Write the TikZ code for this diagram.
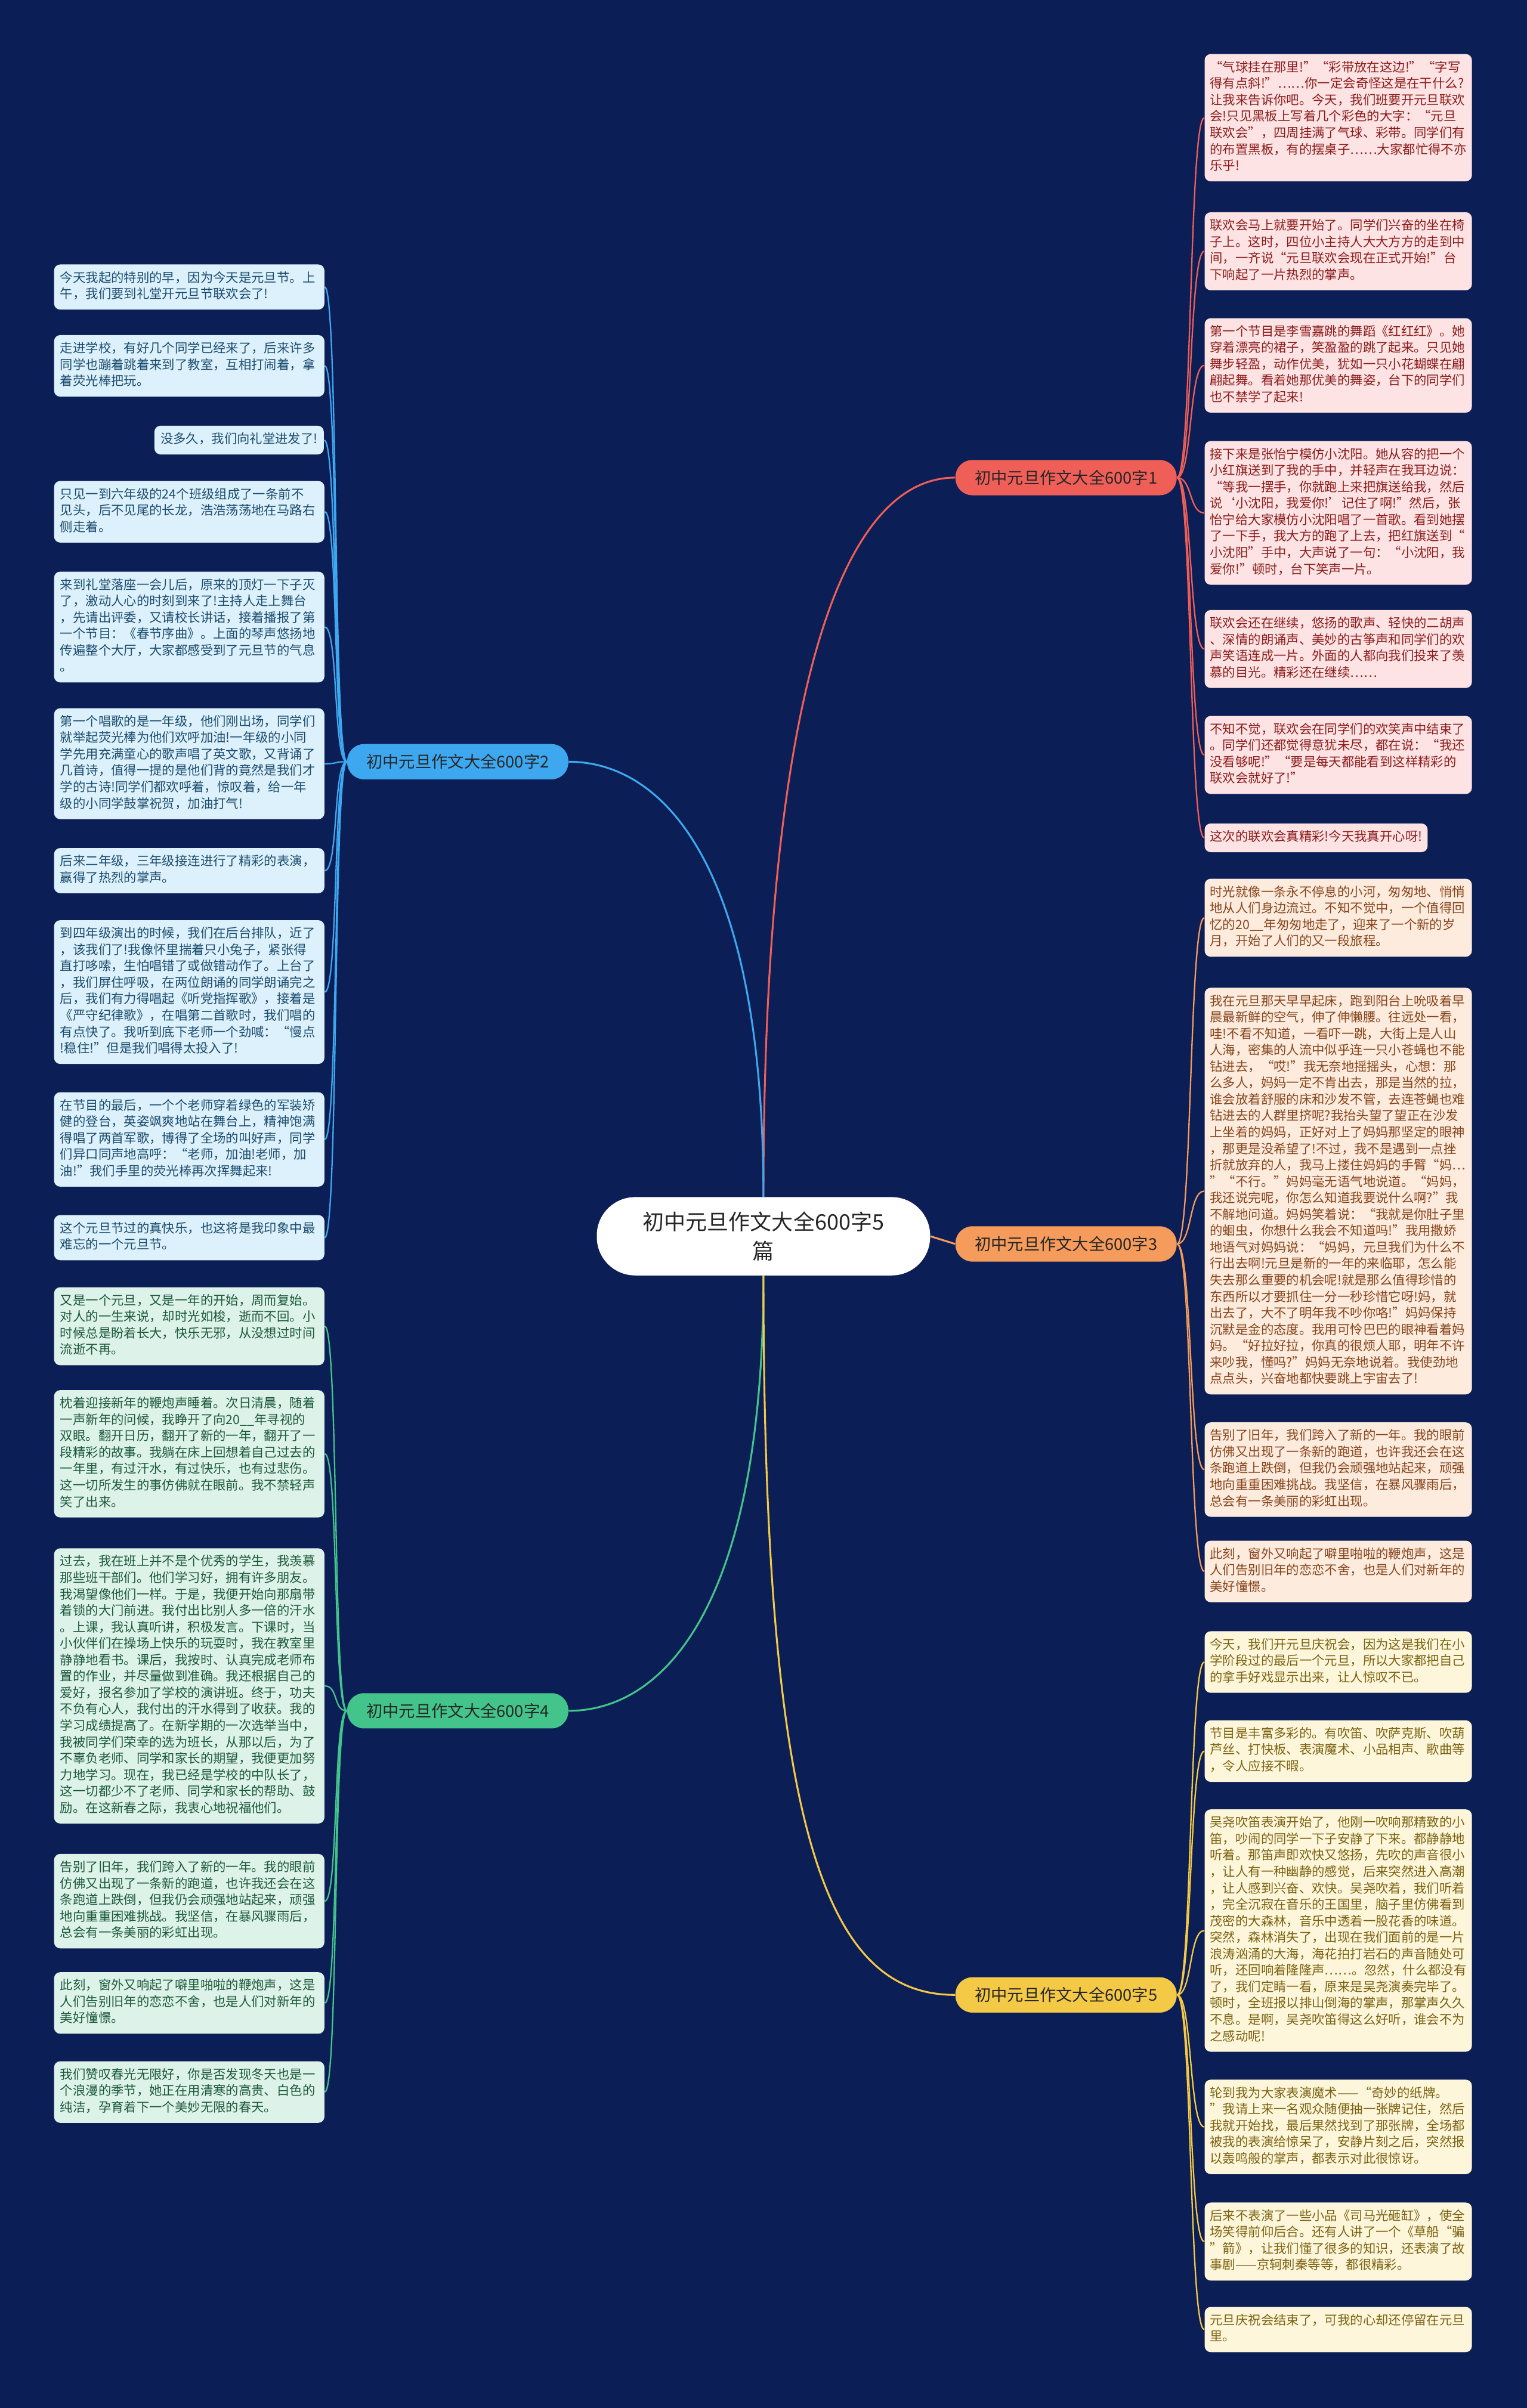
\documentclass[tikz,border=0pt]{standalone}
\usepackage{fontspec}
\setmainfont{Noto Sans CJK SC}
\definecolor{bgc}{HTML}{0C1E56}
\definecolor{cA}{HTML}{EF5F58}
\definecolor{cB}{HTML}{3DA8EF}
\definecolor{cC}{HTML}{F59B5B}
\definecolor{cD}{HTML}{43C48A}
\definecolor{cE}{HTML}{F4C946}
\definecolor{fA}{HTML}{FDE3E3}
\definecolor{tA}{HTML}{8C1C1C}
\definecolor{fB}{HTML}{DCF1FB}
\definecolor{tB}{HTML}{1C4C6E}
\definecolor{fC}{HTML}{FDEBDE}
\definecolor{tC}{HTML}{86451B}
\definecolor{fD}{HTML}{DDF2E8}
\definecolor{tD}{HTML}{1D5A3C}
\definecolor{fE}{HTML}{FEF6DA}
\definecolor{tE}{HTML}{7A6212}
\begin{document}
\begin{tikzpicture}[x=1pt,y=-1pt,
  basebox/.style={inner xsep=3.5pt, inner ysep=4pt, rounded corners=4pt, align=left,
    font=\fontsize{8.3pt}{10.7pt}\selectfont, execute at begin node=\strut, execute at end node=\strut},
  rbox/.style={basebox, anchor=north west, text width=167pt},
  lbox/.style={basebox, anchor=north west, text width=168pt, inner xsep=4pt},
  boxA/.style={fill=fA, text=tA}, boxB/.style={fill=fB, text=tB}, boxC/.style={fill=fC, text=tC},
  boxD/.style={fill=fD, text=tD}, boxE/.style={fill=fE, text=tE},
  branch/.style={rounded corners=11pt, minimum width=144pt, minimum height=23pt, inner sep=2pt,
    font=\fontsize{10.6pt}{12pt}\selectfont, text=black!85},
  mainline/.style={line width=1.2pt},
  subline/.style={line width=0.9pt}
]
\fill[bgc] (0,0) rectangle (994,1568);
\useasboundingbox (0,0) rectangle (994,1568);

% center
\node[fill=white, rounded corners=25pt, minimum width=217pt, minimum height=51pt, align=center,
  font=\fontsize{14pt}{19pt}\selectfont, text=black!85] (C) at (497,805) {初中元旦作文大全600字5\\篇};

% branch labels
\node[branch, fill=cA] (L1) at (694,311) {初中元旦作文大全600字1};
\node[branch, fill=cB] (L2) at (298,496) {初中元旦作文大全600字2};
\node[branch, fill=cC] (L3) at (694,810) {初中元旦作文大全600字3};
\node[branch, fill=cD] (L4) at (298,1114) {初中元旦作文大全600字4};
\node[branch, fill=cE] (L5) at (694,1299) {初中元旦作文大全600字5};

% main connectors
\draw[mainline, cA] (C.north) .. controls (497,480) and (540,311) .. (L1.west);
\draw[mainline, cB] (C.north) .. controls (497,560) and (430,496) .. (L2.east);
\draw[mainline, cC] (C.east) -- (L3.west);
\draw[mainline, cD] (C.south) .. controls (497,1050) and (430,1114) .. (L4.east);
\draw[mainline, cE] (C.south) .. controls (497,1200) and (540,1299) .. (L5.west);

% branch 1 boxes
\node[rbox, boxA] (a1) at (784,35) {“气球挂在那里!”“彩带放在这边!”“字写\\得有点斜!”……你一定会奇怪这是在干什么?\\让我来告诉你吧。今天，我们班要开元旦联欢\\会!只见黑板上写着几个彩色的大字：“元旦\\联欢会”，四周挂满了气球、彩带。同学们有\\的布置黑板，有的摆桌子……大家都忙得不亦\\乐乎!};
\node[rbox, boxA] (a2) at (784,138) {联欢会马上就要开始了。同学们兴奋的坐在椅\\子上。这时，四位小主持人大大方方的走到中\\间，一齐说“元旦联欢会现在正式开始!”台\\下响起了一片热烈的掌声。};
\node[rbox, boxA] (a3) at (784,207) {第一个节目是李雪嘉跳的舞蹈《红红红》。她\\穿着漂亮的裙子，笑盈盈的跳了起来。只见她\\舞步轻盈，动作优美，犹如一只小花蝴蝶在翩\\翩起舞。看着她那优美的舞姿，台下的同学们\\也不禁学了起来!};
\node[rbox, boxA] (a4) at (784,287) {接下来是张怡宁模仿小沈阳。她从容的把一个\\小红旗送到了我的手中，并轻声在我耳边说：\\“等我一摆手，你就跑上来把旗送给我，然后\\说‘小沈阳，我爱你!’记住了啊!”然后，张\\怡宁给大家模仿小沈阳唱了一首歌。看到她摆\\了一下手，我大方的跑了上去，把红旗送到“\\小沈阳”手中，大声说了一句：“小沈阳，我\\爱你!”顿时，台下笑声一片。};
\node[rbox, boxA] (a5) at (784,397) {联欢会还在继续，悠扬的歌声、轻快的二胡声\\、深情的朗诵声、美妙的古筝声和同学们的欢\\声笑语连成一片。外面的人都向我们投来了羡\\慕的目光。精彩还在继续……};
\node[rbox, boxA] (a6) at (784,466) {不知不觉，联欢会在同学们的欢笑声中结束了\\。同学们还都觉得意犹未尽，都在说：“我还\\没看够呢!”“要是每天都能看到这样精彩的\\联欢会就好了!”};
\node[basebox, boxA, anchor=north west] (a7) at (784,536) {这次的联欢会真精彩!今天我真开心呀!};

% branch 3 boxes
\node[rbox, boxC] (c1) at (784,572) {时光就像一条永不停息的小河，匆匆地、悄悄\\地从人们身边流过。不知不觉中，一个值得回\\忆的20\_\_年匆匆地走了，迎来了一个新的岁\\月，开始了人们的又一段旅程。};
\node[rbox, boxC] (c2) at (784,643) {我在元旦那天早早起床，跑到阳台上吮吸着早\\晨最新鲜的空气，伸了伸懒腰。往远处一看，\\哇!不看不知道，一看吓一跳，大街上是人山\\人海，密集的人流中似乎连一只小苍蝇也不能\\钻进去，“哎!”我无奈地摇摇头，心想：那\\么多人，妈妈一定不肯出去，那是当然的拉，\\谁会放着舒服的床和沙发不管，去连苍蝇也难\\钻进去的人群里挤呢?我抬头望了望正在沙发\\上坐着的妈妈，正好对上了妈妈那坚定的眼神\\，那更是没希望了!不过，我不是遇到一点挫\\折就放弃的人，我马上搂住妈妈的手臂“妈…\\”“不行。”妈妈毫无语气地说道。“妈妈，\\我还说完呢，你怎么知道我要说什么啊?”我\\不解地问道。妈妈笑着说：“我就是你肚子里\\的蛔虫，你想什么我会不知道吗!”我用撒娇\\地语气对妈妈说：“妈妈，元旦我们为什么不\\行出去啊!元旦是新的一年的来临耶，怎么能\\失去那么重要的机会呢!就是那么值得珍惜的\\东西所以才要抓住一分一秒珍惜它呀!妈，就\\出去了，大不了明年我不吵你咯!”妈妈保持\\沉默是金的态度。我用可怜巴巴的眼神看着妈\\妈。“好拉好拉，你真的很烦人耶，明年不许\\来吵我，懂吗?”妈妈无奈地说着。我使劲地\\点点头，兴奋地都快要跳上宇宙去了!};
\node[rbox, boxC] (c3) at (784,926) {告别了旧年，我们跨入了新的一年。我的眼前\\仿佛又出现了一条新的跑道，也许我还会在这\\条跑道上跌倒，但我仍会顽强地站起来，顽强\\地向重重困难挑战。我坚信，在暴风骤雨后，\\总会有一条美丽的彩虹出现。};
\node[rbox, boxC] (c4) at (784,1003) {此刻，窗外又响起了噼里啪啦的鞭炮声，这是\\人们告别旧年的恋恋不舍，也是人们对新年的\\美好憧憬。};

% branch 5 boxes
\node[rbox, boxE] (e1) at (784,1062) {今天，我们开元旦庆祝会，因为这是我们在小\\学阶段过的最后一个元旦，所以大家都把自己\\的拿手好戏显示出来，让人惊叹不已。};
\node[rbox, boxE] (e2) at (784,1120) {节目是丰富多彩的。有吹笛、吹萨克斯、吹葫\\芦丝、打快板、表演魔术、小品相声、歌曲等\\，令人应接不暇。};
\node[rbox, boxE] (e3) at (784,1178) {吴尧吹笛表演开始了，他刚一吹响那精致的小\\笛，吵闹的同学一下子安静了下来。都静静地\\听着。那笛声即欢快又悠扬，先吹的声音很小\\，让人有一种幽静的感觉，后来突然进入高潮\\，让人感到兴奋、欢快。吴尧吹着，我们听着\\，完全沉寂在音乐的王国里，脑子里仿佛看到\\茂密的大森林，音乐中透着一股花香的味道。\\突然，森林消失了，出现在我们面前的是一片\\浪涛汹涌的大海，海花拍打岩石的声音随处可\\听，还回响着隆隆声……。忽然，什么都没有\\了，我们定睛一看，原来是吴尧演奏完毕了。\\顿时，全班报以排山倒海的掌声，那掌声久久\\不息。是啊，吴尧吹笛得这么好听，谁会不为\\之感动呢!};
\node[rbox, boxE] (e4) at (784,1354) {轮到我为大家表演魔术——“奇妙的纸牌。\\”我请上来一名观众随便抽一张牌记住，然后\\我就开始找，最后果然找到了那张牌，全场都\\被我的表演给惊呆了，安静片刻之后，突然报\\以轰鸣般的掌声，都表示对此很惊讶。};
\node[rbox, boxE] (e5) at (784,1434) {后来不表演了一些小品《司马光砸缸》，使全\\场笑得前仰后合。还有人讲了一个《草船“骗\\”箭》，让我们懂了很多的知识，还表演了故\\事剧——京轲刺秦等等，都很精彩。};
\node[rbox, boxE] (e6) at (784,1502) {元旦庆祝会结束了，可我的心却还停留在元旦\\里。};

% branch 2 boxes
\node[lbox, boxB] (b1) at (35,172) {今天我起的特别的早，因为今天是元旦节。上\\午，我们要到礼堂开元旦节联欢会了!};
\node[lbox, boxB] (b2) at (35,218) {走进学校，有好几个同学已经来了，后来许多\\同学也蹦着跳着来到了教室，互相打闹着，拿\\着荧光棒把玩。};
\node[basebox, boxB, anchor=north east, inner xsep=4pt] (b3) at (211,277) {没多久，我们向礼堂进发了!};
\node[lbox, boxB] (b4) at (35,313) {只见一到六年级的24个班级组成了一条前不\\见头，后不见尾的长龙，浩浩荡荡地在马路右\\侧走着。};
\node[lbox, boxB] (b5) at (35,372) {来到礼堂落座一会儿后，原来的顶灯一下子灭\\了，激动人心的时刻到来了!主持人走上舞台\\，先请出评委，又请校长讲话，接着播报了第\\一个节目：《春节序曲》。上面的琴声悠扬地\\传遍整个大厅，大家都感受到了元旦节的气息\\。};
\node[lbox, boxB] (b6) at (35,461) {第一个唱歌的是一年级，他们刚出场，同学们\\就举起荧光棒为他们欢呼加油!一年级的小同\\学先用充满童心的歌声唱了英文歌，又背诵了\\几首诗，值得一提的是他们背的竟然是我们才\\学的古诗!同学们都欢呼着，惊叹着，给一年\\级的小同学鼓掌祝贺，加油打气!};
\node[lbox, boxB] (b7) at (35,552) {后来二年级，三年级接连进行了精彩的表演，\\赢得了热烈的掌声。};
\node[lbox, boxB] (b8) at (35,599) {到四年级演出的时候，我们在后台排队，近了\\，该我们了!我像怀里揣着只小兔子，紧张得\\直打哆嗦，生怕唱错了或做错动作了。上台了\\，我们屏住呼吸，在两位朗诵的同学朗诵完之\\后，我们有力得唱起《听党指挥歌》，接着是\\《严守纪律歌》，在唱第二首歌时，我们唱的\\有点快了。我听到底下老师一个劲喊：“慢点\\!稳住!”但是我们唱得太投入了!};
\node[lbox, boxB] (b9) at (35,711) {在节目的最后，一个个老师穿着绿色的军装矫\\健的登台，英姿飒爽地站在舞台上，精神饱满\\得唱了两首军歌，博得了全场的叫好声，同学\\们异口同声地高呼：“老师，加油!老师，加\\油!”我们手里的荧光棒再次挥舞起来!};
\node[lbox, boxB] (b10) at (35,791) {这个元旦节过的真快乐，也这将是我印象中最\\难忘的一个元旦节。};

% branch 4 boxes
\node[lbox, boxD] (d1) at (35,838) {又是一个元旦，又是一年的开始，周而复始。\\对人的一生来说，却时光如梭，逝而不回。小\\时候总是盼着长大，快乐无邪，从没想过时间\\流逝不再。};
\node[lbox, boxD] (d2) at (35,905) {枕着迎接新年的鞭炮声睡着。次日清晨，随着\\一声新年的问候，我睁开了向20\_\_年寻视的\\双眼。翻开日历，翻开了新的一年，翻开了一\\段精彩的故事。我躺在床上回想着自己过去的\\一年里，有过汗水，有过快乐，也有过悲伤。\\这一切所发生的事仿佛就在眼前。我不禁轻声\\笑了出来。};
\node[lbox, boxD] (d3) at (35,1008) {过去，我在班上并不是个优秀的学生，我羡慕\\那些班干部们。他们学习好，拥有许多朋友。\\我渴望像他们一样。于是，我便开始向那扇带\\着锁的大门前进。我付出比别人多一倍的汗水\\。上课，我认真听讲，积极发言。下课时，当\\小伙伴们在操场上快乐的玩耍时，我在教室里\\静静地看书。课后，我按时、认真完成老师布\\置的作业，并尽量做到准确。我还根据自己的\\爱好，报名参加了学校的演讲班。终于，功夫\\不负有心人，我付出的汗水得到了收获。我的\\学习成绩提高了。在新学期的一次选举当中，\\我被同学们荣幸的选为班长，从那以后，为了\\不辜负老师、同学和家长的期望，我便更加努\\力地学习。现在，我已经是学校的中队长了，\\这一切都少不了老师、同学和家长的帮助、鼓\\励。在这新春之际，我衷心地祝福他们。};
\node[lbox, boxD] (d4) at (35,1207) {告别了旧年，我们跨入了新的一年。我的眼前\\仿佛又出现了一条新的跑道，也许我还会在这\\条跑道上跌倒，但我仍会顽强地站起来，顽强\\地向重重困难挑战。我坚信，在暴风骤雨后，\\总会有一条美丽的彩虹出现。};
\node[lbox, boxD] (d5) at (35,1284) {此刻，窗外又响起了噼里啪啦的鞭炮声，这是\\人们告别旧年的恋恋不舍，也是人们对新年的\\美好憧憬。};
\node[lbox, boxD] (d6) at (35,1342) {我们赞叹春光无限好，你是否发现冬天也是一\\个浪漫的季节，她正在用清寒的高贵、白色的\\纯洁，孕育着下一个美妙无限的春天。};

% sub connectors
\foreach \n in {a1,a2,a3,a4,a5,a6,a7}
  \draw[subline, cA] (L1.east) .. controls +(10,0) and +(-10,0) .. (\n.west);
\foreach \n in {c1,c2,c3,c4}
  \draw[subline, cC] (L3.east) .. controls +(10,0) and +(-10,0) .. (\n.west);
\foreach \n in {e1,e2,e3,e4,e5,e6}
  \draw[subline, cE] (L5.east) .. controls +(10,0) and +(-10,0) .. (\n.west);
\foreach \n in {b1,b2,b3,b4,b5,b6,b7,b8,b9,b10}
  \draw[subline, cB] (L2.west) .. controls +(-9,0) and +(9,0) .. (\n.east);
\foreach \n in {d1,d2,d3,d4,d5,d6}
  \draw[subline, cD] (L4.west) .. controls +(-9,0) and +(9,0) .. (\n.east);
\end{tikzpicture}
\end{document}
